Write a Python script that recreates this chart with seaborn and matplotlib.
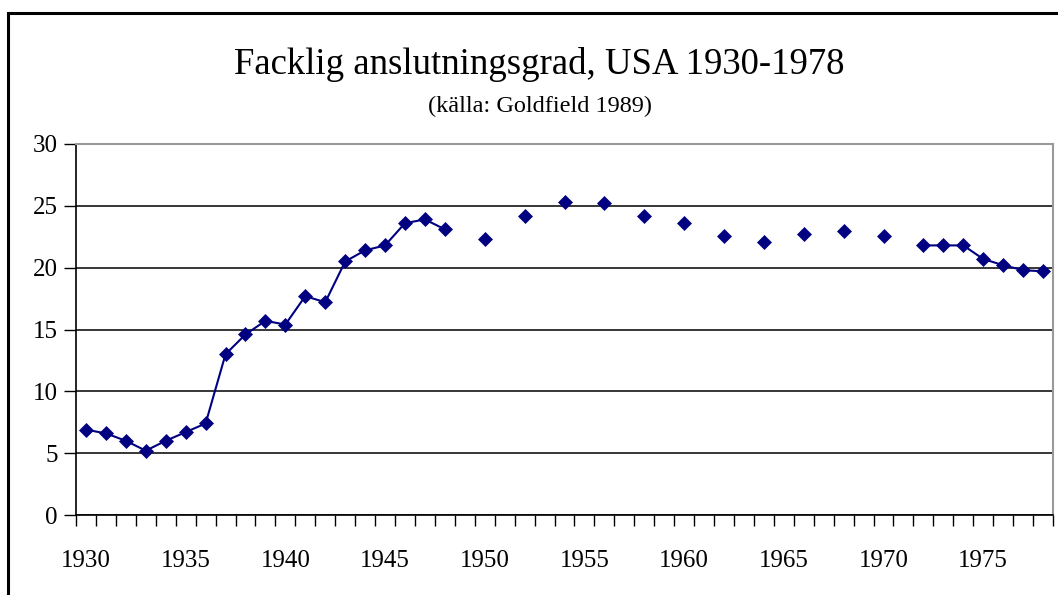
import numpy as np
import pandas as pd
import matplotlib
matplotlib.use("Agg")
import matplotlib.pyplot as plt
from matplotlib.patches import Rectangle
from matplotlib.ticker import MultipleLocator, FixedLocator
import seaborn as sns

years = [1930, 1931, 1932, 1933, 1934, 1935, 1936, 1937, 1938, 1939,
         1940, 1941, 1942, 1943, 1944, 1945, 1946, 1947, 1948,
         1950, 1952, 1954, 1956, 1958, 1960, 1962, 1964, 1966, 1968, 1970,
         1972, 1973, 1974, 1975, 1976, 1977, 1978]
density = [6.9, 6.6, 6.0, 5.2, 6.0, 6.7, 7.4, 13.0, 14.6, 15.7,
           15.4, 17.7, 17.2, 20.5, 21.4, 21.8, 23.6, 23.9, 23.1,
           22.3, 24.2, 25.3, 25.2, 24.2, 23.6, 22.6, 22.1, 22.7, 23.0, 22.6,
           21.8, 21.8, 21.8, 20.7, 20.2, 19.8, 19.7]
tick_years = [1930, 1935, 1940, 1945, 1950, 1955, 1960, 1965, 1970, 1975]
title = "Facklig anslutningsgrad, USA 1930-1978"
subtitle = "(källa: Goldfield 1989)"

df = pd.DataFrame({"year": years, "value": density})
# segments: consecutive years are joined, gaps break the line
df["seg"] = (df["year"].diff() != 1).cumsum()

sns.set_style("white")
plt.rcParams["font.family"] = ["Liberation Serif", "DejaVu Serif"]
plt.rcParams["text.color"] = "black"
plt.rcParams["xtick.color"] = "black"
plt.rcParams["ytick.color"] = "black"
plt.rcParams["xtick.labelcolor"] = "black"
plt.rcParams["ytick.labelcolor"] = "black"

fig = plt.figure(figsize=(10.58, 5.95), dpi=100)
ax = fig.add_axes([76 / 1058, 1 - 515 / 595, (1053 - 76) / 1058, (515 - 144) / 595])

sns.lineplot(data=df, x="year", y="value", units="seg", estimator=None,
             color="#000080", lw=1.5, marker="D", markersize=7.5,
             markeredgecolor="#000080", markeredgewidth=0.5, ax=ax,
             legend=False, zorder=3)

ax.set_xlim(1929.5, 1978.5)
ax.set_ylim(0, 30)
ax.yaxis.set_major_locator(MultipleLocator(5))
ax.set_xticks(tick_years)
ax.set_xticklabels([str(y) for y in tick_years])
ax.xaxis.set_minor_locator(FixedLocator(np.arange(1929.5, 1979, 1.0)))
ax.tick_params(axis="x", which="major", length=0, pad=25, labelsize=18,
               labelcolor="black")
ax.tick_params(axis="x", which="minor", length=8, width=1, color="black",
               direction="out", bottom=True)
ax.tick_params(axis="y", which="major", length=9, width=1, color="black",
               direction="out", left=True, labelsize=18, pad=4,
               labelcolor="black")
ax.set_xlabel("")
ax.set_ylabel("")

ax.grid(axis="y", color="black", lw=1.1, zorder=0)
ax.grid(axis="x", visible=False)

for side in ["top", "right"]:
    ax.spines[side].set_visible(True)
    ax.spines[side].set_color("#999999")
    ax.spines[side].set_linewidth(1.5)
for side in ["left", "bottom"]:
    ax.spines[side].set_color("black")
    ax.spines[side].set_linewidth(1.2)

fig.text(0.51, 1 - 74 / 595, title, ha="center", va="baseline",
         fontsize=26.5, color="black")
fig.text(0.51, 1 - 112 / 595, subtitle, ha="center", va="baseline",
         fontsize=17.5, color="black")

fig.add_artist(Rectangle((8 / 1058, -0.2), 1.3, 1.2 - 13 / 595,
                         transform=fig.transFigure, fill=False,
                         edgecolor="black", lw=2.2))

fig.savefig("out.png", dpi=100)
